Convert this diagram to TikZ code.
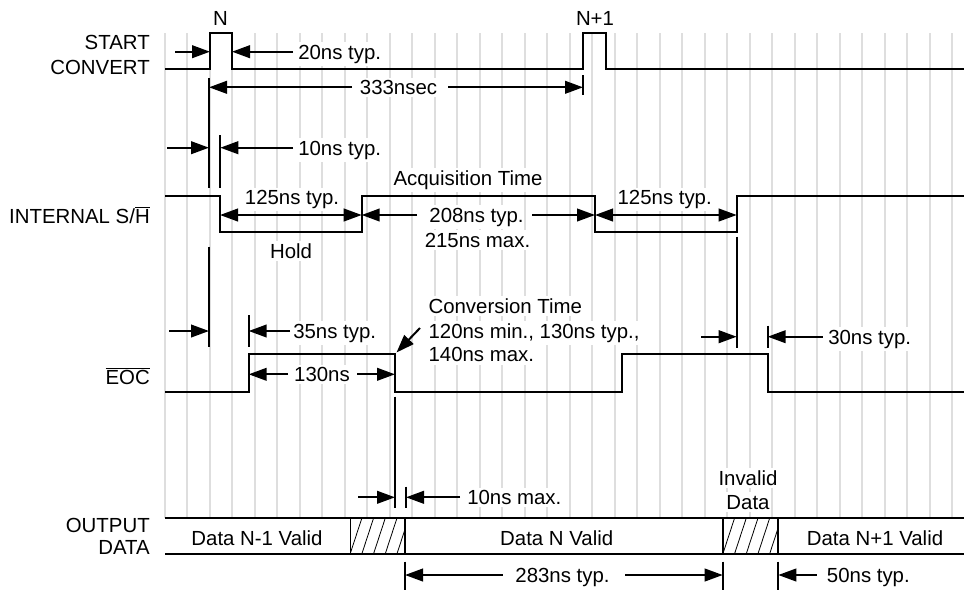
\documentclass[tikz,border=0pt]{standalone}
\usepackage{fontspec}
\setmainfont{Liberation Sans}
\usetikzlibrary{arrows.meta}
\begin{document}
\begin{tikzpicture}[x=0.75pt,y=-0.75pt,
  sig/.style={line width=1.75pt, line join=miter},
  tip/.tip={Triangle[length=13.5pt,width=9.5pt]},
  dim/.style={line width=1.5pt, -tip},
  dimb/.style={line width=1.5pt, tip-tip},
  tickline/.style={line width=1.5pt},
  gridline/.style={line width=1.5pt, draw=black!13},
  lbl/.style={font=\fontsize{15.3pt}{18pt}\selectfont, inner xsep=0pt, inner ysep=0pt},
  txt/.style={lbl, fill=white, inner ysep=2pt},
  hatchline/.style={line width=0.6pt},
]
\useasboundingbox (0,0) rectangle (964,590);

% grid
\foreach \k in {0,...,35} \draw[gridline] ({165+22.49*\k},33) -- ({165+22.49*\k},517.7);

% signal names
\node[lbl, anchor=base east] (lStart) at (150,49) {START};
\node[lbl, anchor=base east] (lConv) at (150,74) {CONVERT};
\node[lbl, anchor=base east] (lSH) at (150,223.3) {INTERNAL S/$\overline{\mbox{H}}$};
\node[lbl, anchor=base east] (lEOC) at (150,384) {$\overline{\mbox{EOC}}$};
\node[lbl, anchor=base east] (lOut) at (150,532.3) {OUTPUT};
\node[lbl, anchor=base east] (lData) at (150,554.5) {DATA};

% dimension arrows
\draw[dim] (175,51.7) -- (210,51.7);
\draw[dim] (293,51.7) -- (232,51.7);
\draw[dim] (352,87.3) -- (209,87.3);
\draw[dim] (448,87.3) -- (583,87.3);
\draw[dim] (167,147.7) -- (209,147.7);
\draw[dim] (293,147.7) -- (220.3,147.7);
\draw[dimb] (220,215) -- (361.7,215);
\draw[dim] (417,215) -- (361.7,215);
\draw[dim] (532,215) -- (595,215);
\draw[dimb] (595,215) -- (736.7,215);
\draw[dim] (169,331) -- (209,331);
\draw[dim] (290,331) -- (248.7,331);
\draw[dim] (288,374.3) -- (248.7,374.3);
\draw[dim] (357,374.3) -- (395,374.3);
\draw[dim] (420,328) -- (396.5,352.5);
\draw[dim] (701,336.7) -- (736.7,336.7);
\draw[dim] (822.7,336.7) -- (767.7,336.7);
\draw[dim] (358,497.3) -- (395,497.3);
\draw[dim] (460,497.3) -- (406,497.3);
\draw[dim] (502.7,575) -- (405,575);
\draw[dim] (625,575) -- (722.7,575);
\draw[dim] (816.7,575) -- (778.3,575);

% reference lines
\draw[tickline] (209,78) -- (209,188);
\draw[tickline] (220.3,135) -- (220.3,188);
\draw[tickline] (583,75) -- (583,95);
\draw[tickline] (209,246.7) -- (209,346.7);
\draw[tickline] (248.7,315) -- (248.7,346.7);
\draw[tickline] (736.7,236.7) -- (736.7,348.3);
\draw[tickline] (767.7,325.7) -- (767.7,348);
\draw[tickline] (395,396.7) -- (395,508);
\draw[tickline] (406,486.7) -- (406,508);
\draw[tickline] (405,561.7) -- (405,590);
\draw[tickline] (722.7,561.7) -- (722.7,590);
\draw[tickline] (778.3,561.7) -- (778.3,590);

% signals
\draw[sig] (165,69) -- (210,69) -- (210,33) -- (232,33) -- (232,69) -- (583,69) -- (583,33) -- (606,33) -- (606,69) -- (964,69);
\draw[sig] (165,195.7) -- (220,195.7) -- (220,232.3) -- (361.7,232.3) -- (361.7,195.7) -- (595,195.7) -- (595,232.3) -- (736.7,232.3) -- (736.7,195.7) -- (964,195.7);
\draw[sig] (165,391.7) -- (248.7,391.7) -- (248.7,354.3) -- (395,354.3) -- (395,391.7) -- (622.3,391.7) -- (622.3,354.3) -- (767.7,354.3) -- (767.7,391.7) -- (964,391.7);

% output data bus
\begin{scope}
\clip (350,517.7) rectangle (405,554.3);
\foreach \i in {-2,...,6} \draw[hatchline] ({350+11.7*\i},554.3) -- ({362+11.7*\i},517.7);
\end{scope}
\begin{scope}
\clip (722.7,517.7) rectangle (778.3,554.3);
\foreach \i in {-2,...,6} \draw[hatchline] ({722.7+11.7*\i},554.3) -- ({734.7+11.7*\i},517.7);
\end{scope}
\draw[line width=0.75pt] (350,517.7) -- (350,554.3);
\draw[sig] (165,517.7) -- (964,517.7);
\draw[sig] (165,554.3) -- (964,554.3);
\draw[sig] (405,517.7) -- (405,554.3);
\draw[sig] (722.7,517.7) -- (722.7,554.3);
\draw[sig] (778.3,517.7) -- (778.3,554.3);

% texts
\node[txt, anchor=base] (tN) at (220.5,25) {N};
\node[txt, anchor=base] (tN1) at (595,25) {N+1};
\node[txt, anchor=base west] (t20) at (298,59) {20ns typ.};
\node[txt, anchor=base] (t333) at (398.5,94.6) {333nsec};
\node[txt, anchor=base west] (t10) at (298,155) {10ns typ.};
\node[txt, anchor=base] (t125a) at (292,204.5) {125ns typ.};
\node[txt, anchor=base] (tHold) at (291,258) {Hold};
\node[txt, anchor=base] (tAcq) at (468,185) {Acquisition Time};
\node[txt, anchor=base] (t208) at (476.5,222.3) {208ns typ.};
\node[txt, anchor=base] (t215) at (477.5,247) {215ns max.};
\node[txt, anchor=base] (t125b) at (664.7,204.5) {125ns typ.};
\node[txt, anchor=base west] (t35) at (293,338.3) {35ns typ.};
\node[txt, anchor=base] (t130) at (322,381.6) {130ns};
\node[txt, anchor=base west] (tConv1) at (428.3,313.3) {Conversion Time};
\node[txt, anchor=base west] (tConv2) at (428.3,338) {120ns min., 130ns typ.,};
\node[txt, anchor=base west] (tConv3) at (428.3,361.7) {140ns max.};
\node[txt, anchor=base west] (t30) at (828,344) {30ns typ.};
\node[txt, anchor=base west] (t10m) at (467,504.6) {10ns max.};
\node[txt, anchor=base] (tInv1) at (748,485) {Invalid};
\node[txt, anchor=base] (tInv2) at (748,509) {Data};
\node[lbl, anchor=base] (tD0) at (257,545) {Data N-1 Valid};
\node[lbl, anchor=base] (tD1) at (556.7,545) {Data N Valid};
\node[lbl, anchor=base] (tD2) at (875,545) {Data N+1 Valid};
\node[txt, anchor=base] (t283) at (562.5,582.3) {283ns typ.};
\node[txt, anchor=base west] (t50) at (826.7,582.3) {50ns typ.};
\end{tikzpicture}
\end{document}
